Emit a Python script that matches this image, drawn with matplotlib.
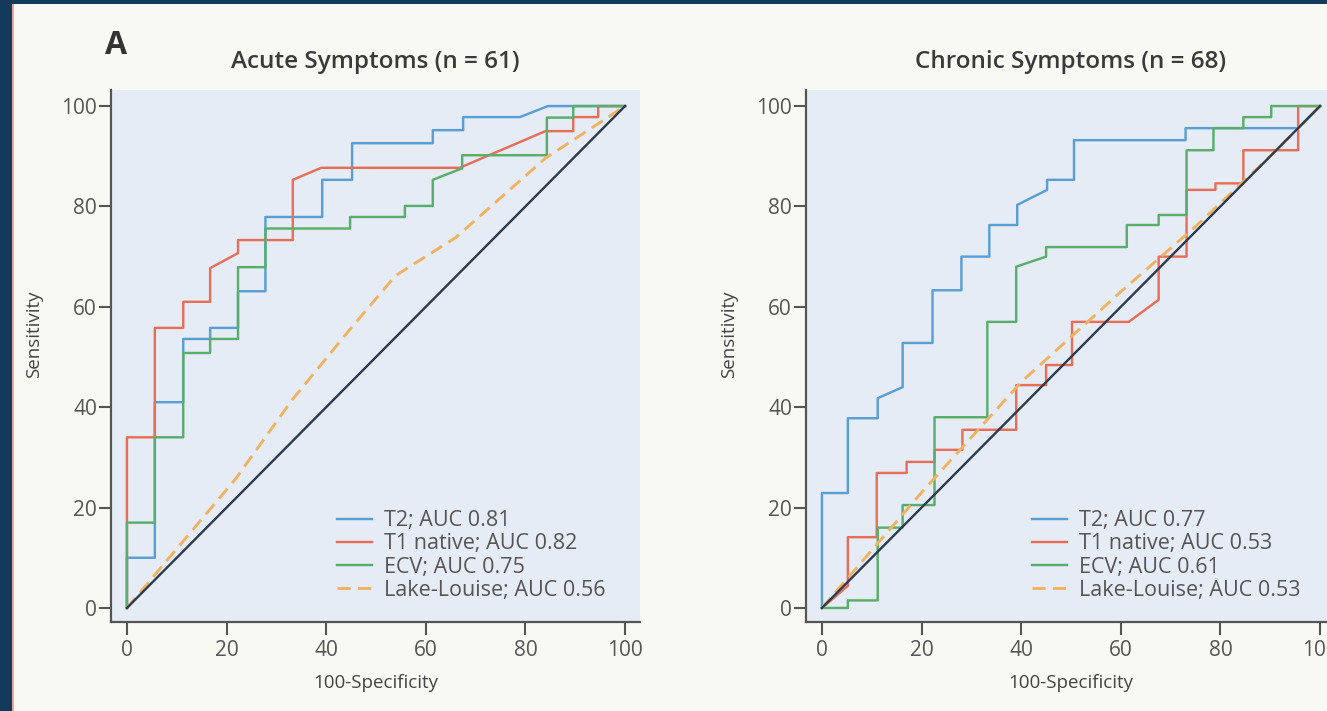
import matplotlib
matplotlib.use("Agg")
import matplotlib.pyplot as plt
from matplotlib.patches import Rectangle

plt.rcParams['font.family'] = ['Open Sans', 'Noto Sans', 'DejaVu Sans']

# ---------------- data ----------------
panel_titles = ["Acute Symptoms (n = 61)", "Chronic Symptoms (n = 68)"]
tick_values = [0, 20, 40, 60, 80, 100]
x_label = "100-Specificity"
y_label = "Sensitivity"

series_names = ["T2", "T1 native", "ECV", "Lake-Louise"]
acute_auc = ["0.81", "0.82", "0.75", "0.56"]
chronic_auc = ["0.77", "0.53", "0.61", "0.53"]

acute_t2_x = [0, 0, 5.6, 5.6, 11.3, 11.3, 16.7, 16.7, 22.3, 22.3, 27.8, 27.8, 39.2, 39.2,
              45.2, 45.2, 61.4, 61.4, 67.5, 67.5, 78.9, 84.5, 100]
acute_t2_y = [0, 10, 10, 41, 41, 53.6, 53.6, 55.8, 55.8, 63.1, 63.1, 77.9, 77.9, 85.3,
              85.3, 92.6, 92.6, 95.2, 95.2, 97.8, 97.8, 100, 100]

acute_t1_x = [0, 0, 5.6, 5.6, 11.3, 11.3, 16.7, 16.7, 22.3, 22.3, 33.3, 33.3, 39, 66.8,
              84, 89.6, 89.6, 94.6, 94.6, 100]
acute_t1_y = [0, 34, 34, 55.8, 55.8, 61, 61, 67.7, 70.7, 73.3, 73.3, 85.3, 87.7, 87.7,
              95, 95, 97.8, 97.8, 100, 100]

acute_ecv_x = [0, 0, 5.6, 5.6, 11.3, 11.3, 16.7, 16.7, 22.3, 22.3, 27.8, 27.8, 44.8, 44.8,
               55.8, 55.8, 61.4, 61.4, 67.3, 67.3, 84.3, 84.3, 89.6, 89.6, 100]
acute_ecv_y = [0, 17, 17, 34, 34, 50.8, 50.8, 53.6, 53.6, 67.9, 67.9, 75.6, 75.6, 77.9,
               77.9, 80.1, 80.1, 85.3, 87.6, 90.2, 90.2, 97.7, 97.7, 100, 100]

acute_ll_x = [0, 21.8, 33.2, 44.6, 53.9, 66, 84, 100]
acute_ll_y = [0, 25.7, 41.5, 55.3, 66.2, 73.8, 89.6, 100]

chronic_t2_x = [0, 0, 5.2, 5.2, 11.2, 11.2, 16.2, 16.2, 22.2, 22.2, 28, 28, 33.6, 33.6,
                39.2, 39.2, 45.2, 45.2, 50.6, 50.6, 73, 73, 95.6, 100]
chronic_t2_y = [0, 22.9, 22.9, 37.8, 37.8, 41.8, 44, 52.8, 52.8, 63.3, 63.3, 70, 70, 76.3,
                76.3, 80.3, 83.3, 85.3, 85.3, 93.2, 93.2, 95.6, 95.6, 100]

chronic_t1_x = [0, 5.2, 5.2, 11, 11, 17, 17, 22.6, 22.6, 28.2, 28.2, 39, 39, 45, 45,
                50.2, 50.2, 61.6, 67.6, 67.6, 73.2, 73.2, 79, 79, 84.6, 84.6, 95.6, 95.6, 100]
chronic_t1_y = [0, 4.4, 14.1, 14.1, 26.9, 26.9, 29.1, 29.1, 31.5, 31.5, 35.5, 35.5, 44.4,
                44.4, 48.4, 48.4, 57, 57, 61.4, 70, 70, 83.3, 83.3, 84.6, 84.6, 91.2, 91.2,
                100, 100]

chronic_ecv_x = [0, 5.2, 5.2, 11.2, 11.2, 16.2, 16.2, 22.6, 22.6, 33.2, 33.2, 39, 39, 45,
                 45, 61.2, 61.2, 67.6, 67.6, 73.2, 73.2, 78.6, 78.6, 84.6, 84.6, 90.2,
                 90.2, 100]
chronic_ecv_y = [0, 0, 1.5, 1.5, 16, 16, 20.5, 20.5, 38, 38, 57, 57, 68, 70, 71.9, 71.9,
                 76.3, 76.3, 78.3, 78.3, 91.2, 91.2, 95.6, 95.6, 97.8, 97.8, 100, 100]

chronic_ll_x = [0, 20, 40, 60, 75, 90, 100]
chronic_ll_y = [0, 23, 45, 63, 76, 90, 100]

ref_x = [0, 100]
ref_y = [0, 100]

# ---------------- styling ----------------
colors = ["#5a9fd4", "#e76f5a", "#5aae6c", "#f2b263"]
W, H = 1327, 711
fig = plt.figure(figsize=(W / 100, H / 100), dpi=100)
fig.patch.set_facecolor("#133a5b")
fig.patches.append(Rectangle((12 / W, 0), 1 - 12 / W, 1 - 4 / H, transform=fig.transFigure,
                             facecolor="#f7f9f2", edgecolor="none", zorder=-10))
fig.patches.append(Rectangle((12 / W, 0), 2 / W, 1 - 4 / H, transform=fig.transFigure,
                             facecolor="#e8a5a5", edgecolor="none", zorder=-9))

ax1 = fig.add_axes([111 / W, 89 / H, 529 / W, 532 / H])
ax2 = fig.add_axes([806 / W, 89 / H, 529 / W, 532 / H])

panels = [
    (ax1, panel_titles[0], acute_auc,
     [(acute_t2_x, acute_t2_y), (acute_t1_x, acute_t1_y), (acute_ecv_x, acute_ecv_y),
      (acute_ll_x, acute_ll_y)]),
    (ax2, panel_titles[1], chronic_auc,
     [(chronic_t2_x, chronic_t2_y), (chronic_t1_x, chronic_t1_y),
      (chronic_ecv_x, chronic_ecv_y), (chronic_ll_x, chronic_ll_y)]),
]

gray = "#555555"
for ax, title, aucs, curves in panels:
    ax.set_facecolor("#e5ecf6")
    for i, (xs, ys) in enumerate(curves):
        label = f"{series_names[i]}; AUC {aucs[i]}"
        if i == 3:
            ax.plot(xs, ys, color=colors[i], lw=2.1, ls=(0, (4.5, 2.5)), label=label, zorder=3)
        else:
            ax.plot(xs, ys, color=colors[i], lw=1.75, label=label, zorder=3)
    ax.plot(ref_x, ref_y, color="#2b3a4f", lw=1.7, zorder=4)
    ax.set_xlim(-3.2, 103)
    ax.set_ylim(-2.8, 103.2)
    ax.set_xticks(tick_values)
    ax.set_yticks(tick_values)
    for s in ["top", "right"]:
        ax.spines[s].set_visible(False)
    for s in ["left", "bottom"]:
        ax.spines[s].set_color(gray)
        ax.spines[s].set_linewidth(1.6)
    ax.tick_params(axis="both", direction="out", length=9, width=1.5, color=gray,
                   labelcolor=gray, labelsize=15)
    ax.tick_params(axis="y", pad=1)
    ax.tick_params(axis="x", pad=4)
    ax.set_xlabel(x_label, fontsize=13.5, color="#444444")
    ax.xaxis.set_label_coords(0.5, -0.115)
    ax.xaxis.label.set_va("center")
    ax.set_ylabel(y_label, fontsize=13.5, color="#444444")
    ax.yaxis.set_label_coords(-0.145, 0.54)
    ax.yaxis.label.set_va("center")
    ax.text(0.5, 1.0526, title, transform=ax.transAxes, ha="center", va="center",
            fontsize=17.5, fontweight="semibold", color="#3a3a3a")
    leg = ax.legend(loc="lower left", bbox_to_anchor=(0.427, 0.04), frameon=False,
                    fontsize=15.5, handlelength=1.65, handletextpad=0.55, labelspacing=0.1,
                    borderpad=0, borderaxespad=0)
    for t in leg.get_texts():
        t.set_color(gray)

fig.text(116 / W, 1 - 45 / H, "A", fontsize=23, fontweight="bold", ha="center",
         va="center", color="#333333")

fig.savefig("out.png", dpi=100, facecolor=fig.get_facecolor())
